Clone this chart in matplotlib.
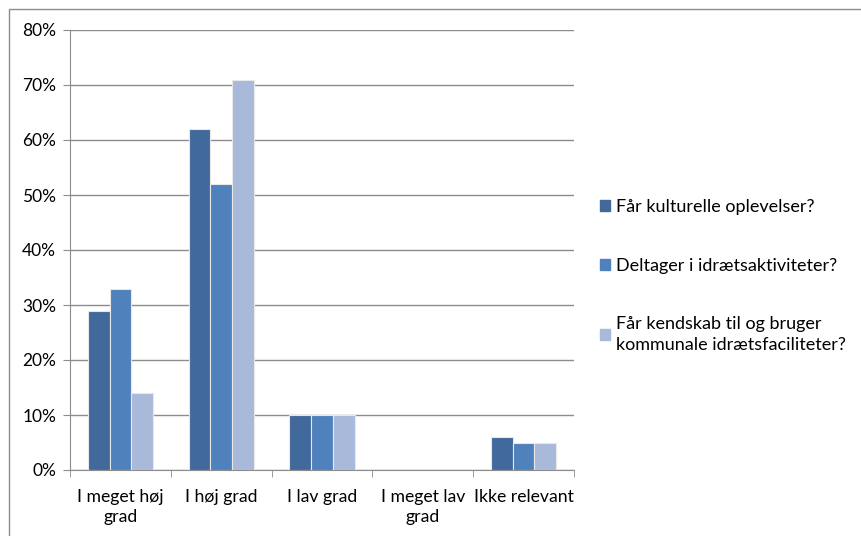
import matplotlib.pyplot as plt
import matplotlib.patches as mpatches
import numpy as np

categories = ['I meget høj\ngrad', 'I høj grad', 'I lav grad', 'I meget lav\ngrad', 'Ikke relevant']
series_names = ['Får kulturelle oplevelser?',
                'Deltager i idrætsaktiviteter?',
                'Får kendskab til og bruger\nkommunale idrætsfaciliteter?']
kultur = [0.29, 0.62, 0.10, 0.0, 0.06]
idraet = [0.33, 0.52, 0.10, 0.0, 0.05]
faciliteter = [0.14, 0.71, 0.10, 0.0, 0.05]
colors = ['#41699C', '#4F81BD', '#A8B9D9']

plt.rcParams['font.family'] = ['Lato', 'DejaVu Sans']

fig = plt.figure(figsize=(8.62, 5.36), dpi=100)
ax = fig.add_axes([70/862, 1-470/536, (574-70)/862, (470-30)/536])

# outer chart border
fig.patches.append(mpatches.Rectangle((9/862, -0.01), 1.0, 1-9/536+0.01, transform=fig.transFigure,
                                      fill=False, edgecolor='#8C8C8C', linewidth=1.0))

x = np.arange(len(categories))
w = 0.215
for i, (vals, c, name) in enumerate(zip([kultur, idraet, faciliteter], colors, series_names)):
  ax.bar(x + (i-1)*w, vals, width=w, color=c, edgecolor='#E8E8E8', linewidth=0.8,
         label=name, zorder=3)

ax.set_xlim(-0.5, len(categories)-0.5)
ax.set_ylim(0, 0.8)
ax.set_yticks(np.arange(0, 0.81, 0.1))
ax.set_yticklabels(['%d%%' % round(v*100) for v in np.arange(0, 0.81, 0.1)], fontsize=12.5)
ax.yaxis.grid(True, color='#8C8C8C', linewidth=1.0, zorder=0)
ax.set_xticks(x)
ax.set_xticklabels(categories, fontsize=12.7, linespacing=1.3)
ax.set_xticks(np.arange(-0.5, len(categories), 1.0), minor=True)
ax.tick_params(axis='x', which='major', length=0, pad=14)
ax.tick_params(axis='x', which='minor', length=5, color='#8C8C8C')
ax.tick_params(axis='y', length=5, color='#8C8C8C', pad=5)
for s in ['top', 'right']:
  ax.spines[s].set_visible(False)
for s in ['left', 'bottom']:
  ax.spines[s].set_color('#8C8C8C')

handles = [mpatches.Patch(color=c) for c in colors]
leg = fig.legend(handles, series_names, loc='upper left', bbox_to_anchor=(584/862, 1-183/536),
                 frameon=False, fontsize=13.0, handlelength=0.55, handleheight=0.55,
                 handletextpad=0.3, labelspacing=2.35)
for t in leg.get_texts():
  t.set_linespacing(1.4)

fig.savefig('out.png', dpi=100)
